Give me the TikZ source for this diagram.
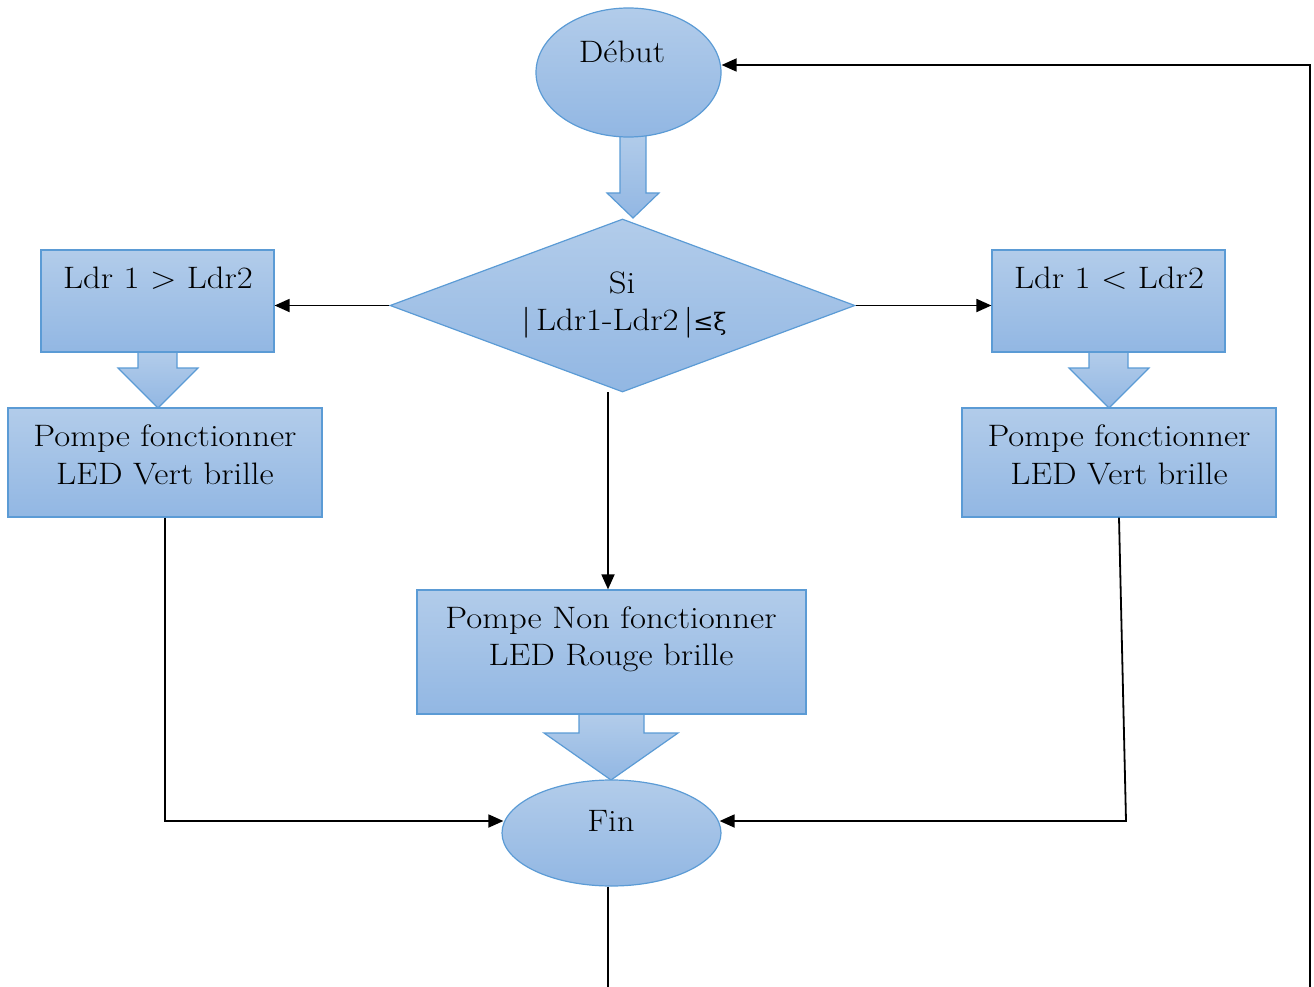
\documentclass[tikz,border=0pt]{standalone}
\usepackage{fontspec}
\setmainfont{Latin Modern Roman}[FakeStretch=1.12]
\newfontfamily\dvs{DejaVu Serif}
\usetikzlibrary{shapes.geometric,arrows.meta,calc}
\definecolor{topc}{HTML}{B2CCEA}
\definecolor{botc}{HTML}{92B7E3}
\definecolor{edgec}{HTML}{5B9BD5}
\begin{document}
\begin{tikzpicture}[x=1pt,y=-1pt,
  fillshape/.style={top color=topc,bottom color=botc,draw=edgec,line width=1.2pt},
  boxshape/.style={fillshape,rectangle,inner sep=0pt},
  ellshape/.style={fillshape,ellipse,inner sep=0pt},
  diashape/.style={fillshape,diamond,inner sep=0pt},
  txt/.style={font=\fontsize{31}{37}\selectfont,inner sep=0pt,anchor=base},
  conn/.style={line width=1.8pt,-{Triangle[length=15pt,width=13pt]}},
  plainline/.style={line width=1.8pt}]
\useasboundingbox (0,0) rectangle (1314,987);
% block arrows
\shade[fillshape] (620,132)--(646,132)--(646,193)--(659,193)--(633,218)--(607,193)--(620,193)--cycle;
\shade[fillshape] (138,352)--(177,352)--(177,368)--(198,368)--(158,408)--(118,368)--(138,368)--cycle;
\shade[fillshape] (1089,352)--(1128,352)--(1128,368)--(1149,368)--(1109,408)--(1069,368)--(1089,368)--cycle;
\shade[fillshape] (579,714)--(644,714)--(644,733)--(678,733)--(611,780)--(544,733)--(579,733)--cycle;
% shapes
\node[ellshape,minimum width=185pt,minimum height=129pt] (deb) at (628.5,72.5) {};
\node[diashape,minimum width=465pt,minimum height=173pt] (dia) at (622.5,305.5) {};
\node[boxshape,minimum width=233pt,minimum height=102pt] (b1) at (157.5,301) {};
\node[boxshape,minimum width=233pt,minimum height=102pt] (b2) at (1108.5,301) {};
\node[boxshape,minimum width=314pt,minimum height=109pt] (g1) at (165,462.5) {};
\node[boxshape,minimum width=314pt,minimum height=109pt] (g2) at (1119,462.5) {};
\node[boxshape,minimum width=389pt,minimum height=124pt] (c) at (611.5,652) {};
\node[ellshape,minimum width=219pt,minimum height=106pt] (fin) at (611.5,833) {};
% texts
\node[txt] (tdeb) at (622,63) {Début};
\node[txt] (tsi) at (622,293) {Si};
\node[txt] (tcond) at (624,330) {|\,Ldr1-Ldr2\,|{\dvs\fontsize{24}{30}\selectfont ≤ξ}};
\node[txt] (tb1) at (158,288) {Ldr 1 > Ldr2};
\node[txt] (tb2) at (1109,288) {Ldr 1 < Ldr2};
\node[txt] (tg1a) at (165,446) {Pompe fonctionner};
\node[txt] (tg1b) at (165,484) {LED Vert brille};
\node[txt] (tg2a) at (1119,446) {Pompe fonctionner};
\node[txt] (tg2b) at (1119,484) {LED Vert brille};
\node[txt] (tca) at (611,628) {Pompe Non fonctionner};
\node[txt] (tcb) at (611,665) {LED Rouge brille};
\node[txt] (tfin) at (611,831) {Fin};
% connectors
\draw[conn] (dia.west) -- (dia.west -| b1.east);
\draw[conn] (dia.east) -- (dia.east -| b2.west);
\coordinate (d1) at (608,392);
\draw[conn] (d1) -- (d1 |- c.north);
\draw[conn] (g1.south) |- ($(fin.west)+(2,-12)$);
\coordinate (r1) at (1126,821);
\draw[conn] (g2.south) -- (r1) -- ($(fin.east)+(-2,-12)$);
\coordinate (fe) at (608,987);
\draw[plainline] (fin.south -| fe) -- (fe);
\coordinate (lb) at (1310,987);
\coordinate (lt) at (1310,65);
\draw[conn] (lb) -- (lt) -- (lt -| deb.east);
\end{tikzpicture}
\end{document}
